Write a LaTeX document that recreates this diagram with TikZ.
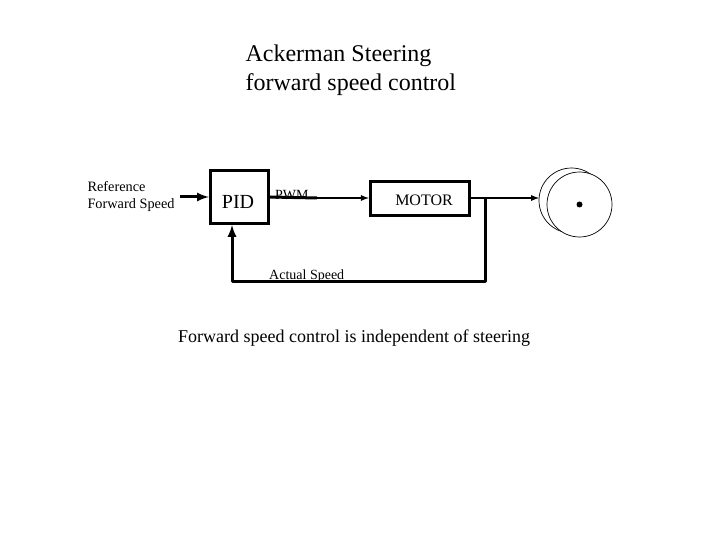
\documentclass[tikz,border=0pt]{standalone}
\usepackage{fontspec}
\setmainfont{Liberation Serif}
\usetikzlibrary{arrows, positioning, calc}
\tikzset{
    blockbox/.style={draw=black, line width=3.4pt, fill=white, align=center},
    wheelrim/.style={draw=black, line width=0.7pt, fill=white, circle, inner sep=0pt, minimum size=65pt},
    link/.style={draw=black, line width=1.7pt},
    thicklink/.style={draw=black, line width=3pt}
}
\begin{document}
\begin{tikzpicture}[x=1pt, y=-1pt]
    \useasboundingbox (0,0) rectangle (720,540);
    \node[anchor=west, align=left, font=\fontsize{24}{28.6}\selectfont] (title) at (242,70) {Ackerman Steering\\forward speed control};
    \node[anchor=west, align=left, font=\fontsize{14.3}{17}\selectfont] (reflabel) at (84,196.5) {Reference\\Forward Speed};
    \node[blockbox, minimum width=58pt, minimum height=53pt, font=\fontsize{20}{22}\selectfont] (pid) at (239.5,197) {\smash{\raisebox{-11pt}{PID}}\hspace*{3pt}};
    \node[blockbox, minimum width=99pt, minimum height=34pt, font=\fontsize{16}{18}\selectfont] (motor) at (420,198.5) {\hspace*{8pt}\smash{\raisebox{-7.5pt}{MOTOR}}};
    \node[wheelrim] (backwheel) at (571.5,200.5) {};
    \node[wheelrim] (frontwheel) at (579.5,204.5) {};
    \node[circle, fill=black, inner sep=0pt, minimum size=6pt] (hub) at (frontwheel.center) {};
    \node[anchor=south west, inner sep=0pt, font=\fontsize{14}{16}\selectfont] (pwmlabel) at (275,200) {PWM};
    \node[anchor=south west, inner sep=0pt, font=\fontsize{14}{16}\selectfont] (speedlabel) at (269,283) {Actual Speed};
    \node[anchor=west, inner sep=0pt, font=\fontsize{18}{20}\selectfont] (note) at (178,338) {Forward speed control is independent of steering};
    \coordinate (refin) at (180,197);
    \coordinate (pwmend) at (317,198);
    \coordinate (wheelin) at (539,198);
    \coordinate (branch) at (485,197);
    \coordinate (corner) at (485,281);
    \coordinate (pidin) at (232,225);
    \draw[thicklink, -latex] (refin) -- (pid.west);
    \draw[thicklink] (pid.east) -- (pwmend);
    \draw[link, -latex] (pwmend) -- (motor.west |- pwmend);
    \draw[link, -latex] (motor.east |- wheelin) -- (wheelin);
    \draw[thicklink, line join=round, -latex] (branch) -- (corner) -- (pidin |- corner) -- (pidin);
\end{tikzpicture}
\end{document}
